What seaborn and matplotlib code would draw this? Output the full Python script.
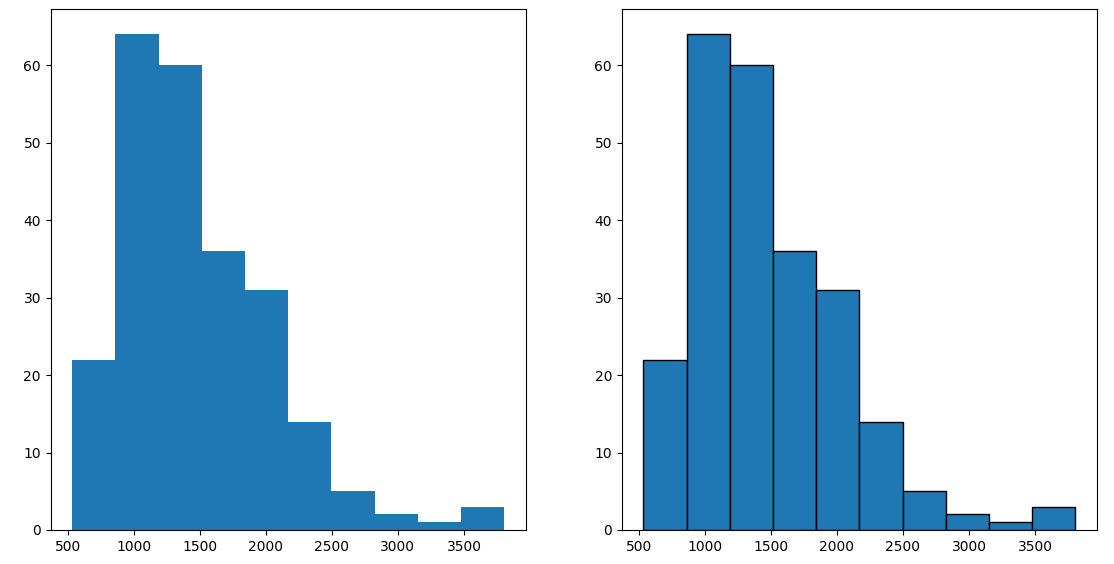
import matplotlib
matplotlib.use("Agg")
import matplotlib.pyplot as plt
import seaborn as sns
import numpy as np

# Histogram bin edges and counts
bin_edges = [535, 862, 1189, 1516, 1843, 2170, 2497, 2824, 3151, 3478, 3805]
counts = [22, 64, 60, 36, 31, 14, 5, 2, 1, 3]

centers = [(a + b) / 2 for a, b in zip(bin_edges[:-1], bin_edges[1:])]

fig, axes = plt.subplots(1, 2, figsize=(11.14, 5.64), dpi=100)
fig.subplots_adjust(left=0.0455, right=0.9847, top=0.9835, bottom=0.0603, wspace=0.202)

sns.histplot(x=centers, weights=counts, bins=bin_edges, ax=axes[0],
             color="#1f77b4", alpha=1, linewidth=0, edgecolor="none")
sns.histplot(x=centers, weights=counts, bins=bin_edges, ax=axes[1],
             color="#1f77b4", alpha=1, linewidth=1, edgecolor="black")

for ax in axes:
    ax.set_ylabel("")
    ax.set_xlabel("")
    ax.set_ylim(0, max(counts) * 1.05)
    ax.set_yticks([0, 10, 20, 30, 40, 50, 60])
    ax.set_xticks([500, 1000, 1500, 2000, 2500, 3000, 3500])

fig.savefig("out.png", dpi=100)
